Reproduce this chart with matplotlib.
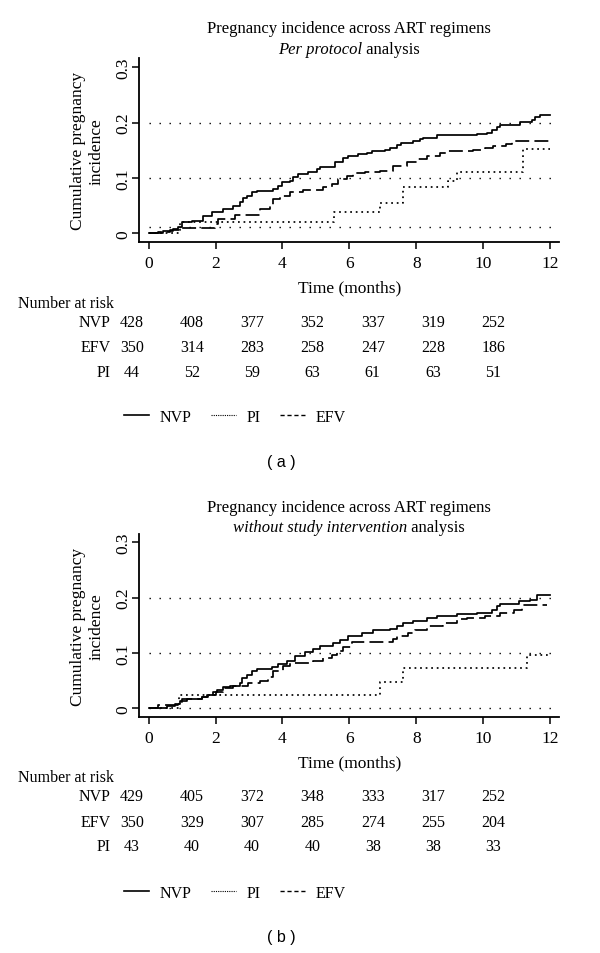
import matplotlib
matplotlib.use("Agg")
import matplotlib.pyplot as plt
from matplotlib.lines import Line2D

SERIF = "Liberation Serif"
SANS = "Liberation Sans"

# ---------------- data ----------------
months = [0, 2, 4, 6, 8, 10, 12]
groups = ["NVP", "EFV", "PI"]

# Panel (a): per protocol analysis
a_nvp_t = [0, 0.44, 0.74, 0.89, 0.99, 1.29, 1.61, 1.88, 2.23, 2.53, 2.73, 2.81, 2.93, 3.08, 3.23,
           3.73, 3.88, 3.98, 4.23, 4.33, 4.48, 4.77, 5.02, 5.12, 5.57, 5.82, 5.97, 6.27, 6.52,
           6.67, 7.07, 7.22, 7.42, 7.56, 7.91, 8.11, 8.21, 8.61, 9.81, 10.11, 10.26, 10.41,
           10.51, 11.11, 11.31, 11.45, 11.55, 11.70, 12.0]
a_nvp_y = [0, 0.004, 0.008, 0.012, 0.021, 0.023, 0.032, 0.038, 0.044, 0.049, 0.056, 0.063,
           0.068, 0.074, 0.077, 0.080, 0.086, 0.092, 0.095, 0.101, 0.107, 0.110, 0.116, 0.119,
           0.128, 0.136, 0.140, 0.143, 0.146, 0.149, 0.151, 0.155, 0.160, 0.164, 0.167, 0.170,
           0.173, 0.178, 0.180, 0.181, 0.186, 0.192, 0.195, 0.201, 0.202, 0.205, 0.210, 0.214,
           0.214]
a_efv_t = [0, 0.29, 0.64, 0.94, 1.98, 2.08, 2.58, 3.33, 3.63, 3.73, 3.93, 4.23, 4.62, 5.22,
           5.47, 5.67, 5.92, 6.12, 6.47, 6.92, 7.32, 7.71, 8.01, 8.31, 8.71, 8.96, 9.71, 10.06,
           10.31, 10.70, 10.85, 12.0]
a_efv_y = [0, 0.003, 0.006, 0.010, 0.016, 0.025, 0.033, 0.043, 0.050, 0.062, 0.068, 0.074,
           0.079, 0.083, 0.089, 0.098, 0.104, 0.109, 0.111, 0.113, 0.122, 0.128, 0.134, 0.139,
           0.146, 0.149, 0.151, 0.155, 0.158, 0.161, 0.167, 0.167]
a_pi_t = [0, 0.93, 5.55, 6.92, 7.61, 8.96, 9.21, 11.18, 12.0]
a_pi_y = [0, 0.021, 0.038, 0.054, 0.083, 0.095, 0.111, 0.153, 0.153]
a_risk_nvp = [428, 408, 377, 352, 337, 319, 252]
a_risk_efv = [350, 314, 283, 258, 247, 228, 186]
a_risk_pi = [44, 52, 59, 63, 61, 63, 51]
a_grid = [0.011, 0.1, 0.2]

# Panel (b): without study intervention analysis
b_nvp_t = [0, 0.34, 0.54, 0.79, 0.94, 1.14, 1.58, 1.73, 1.93, 2.03, 2.23, 2.43, 2.73, 2.78,
           2.93, 3.08, 3.23, 3.68, 3.88, 4.13, 4.38, 4.67, 4.92, 5.12, 5.52, 5.72, 5.97, 6.37,
           6.72, 7.22, 7.42, 7.61, 7.91, 8.31, 8.61, 9.21, 9.81, 10.26, 10.41, 10.51, 11.06,
           11.40, 11.60, 12.0]
b_nvp_y = [0, 0.001, 0.004, 0.007, 0.014, 0.017, 0.020, 0.024, 0.029, 0.033, 0.038, 0.041,
           0.045, 0.054, 0.060, 0.068, 0.071, 0.074, 0.080, 0.086, 0.095, 0.101, 0.107, 0.112,
           0.118, 0.124, 0.131, 0.136, 0.141, 0.143, 0.149, 0.155, 0.158, 0.163, 0.167, 0.170,
           0.172, 0.178, 0.184, 0.189, 0.193, 0.196, 0.205, 0.205]
b_efv_t = [0, 0.29, 0.89, 0.99, 1.58, 1.78, 2.01, 2.23, 2.53, 2.98, 3.33, 3.58, 3.73, 4.03,
           4.23, 4.92, 5.22, 5.47, 5.62, 5.82, 6.07, 7.32, 7.42, 7.76, 7.96, 8.31, 8.81, 9.21,
           9.51, 10.06, 10.51, 10.91, 11.15, 11.92]
b_efv_y = [0, 0.006, 0.011, 0.017, 0.020, 0.024, 0.029, 0.037, 0.041, 0.046, 0.049, 0.056,
           0.067, 0.076, 0.082, 0.086, 0.091, 0.097, 0.104, 0.110, 0.120, 0.125, 0.131, 0.136,
           0.141, 0.148, 0.154, 0.161, 0.164, 0.166, 0.172, 0.177, 0.186, 0.186]
b_pi_t = [0, 0.91, 6.92, 7.61, 11.31, 11.95]
b_pi_y = [0, 0.024, 0.048, 0.072, 0.097, 0.097]
b_risk_nvp = [429, 405, 372, 348, 333, 317, 252]
b_risk_efv = [350, 329, 307, 285, 274, 255, 204]
b_risk_pi = [43, 40, 40, 40, 38, 38, 33]
b_grid = [0.0, 0.1, 0.2]

# ---------------- figure ----------------
W, H = 600, 954
fig = plt.figure(figsize=(W / 100, H / 100), dpi=100)
fig.patch.set_facecolor("white")


def fx(px):
    return px / W


def fy(py):
    return 1 - py / H


SOLID = "-"
DASHED = (0, (8, 3))
DOTTED = (0, (1, 2.2))
GRIDDOT = (0, (1, 6.2))


def panel(top_px, bot_px, title2_it, title2_rm, ys_title, curves, grid, risks, y_rows, y_leg, y_lab, lab):
    left_px, right_px = 139.3, 559.0
    ax = fig.add_axes([fx(left_px), fy(bot_px), fx(right_px - left_px), (bot_px - top_px) / H])
    ax.set_xlim(-0.28, 12.27)
    ax.set_ylim(-0.0163, 0.3163 if top_px < 100 else 0.315)
    for s in ["top", "right"]:
        ax.spines[s].set_visible(False)
    for s in ["left", "bottom"]:
        ax.spines[s].set_linewidth(1.3)
    for g in grid:
        ax.axhline(g, xmin=(0 - (-0.28)) / 12.55, xmax=(12.2 + 0.28) / 12.55,
                   color="black", lw=1.0, linestyle=GRIDDOT)
    styles = [SOLID, DOTTED, DASHED]
    for (t, y), ls in zip(curves, styles):
        ax.step(t, y, where="post", color="black", lw=1.25, linestyle=ls)
    ax.set_xticks(months)
    ax.set_xticklabels([str(m) for m in months], fontfamily=SERIF, fontsize=12.5)
    ax.set_yticks([0, 0.1, 0.2, 0.3])
    ax.set_yticklabels(["0", "0.1", "0.2", "0.3"], fontfamily=SERIF, fontsize=12.5,
                       rotation=90, va="center")
    ax.tick_params(axis="both", direction="out", length=5, width=1.1, pad=4)
    ax.tick_params(axis="y", pad=1)
    ax.set_xlabel("Time (months)", fontfamily=SERIF, fontsize=12.5)
    ax.xaxis.set_label_coords(0.5, -(45.0) / (bot_px - top_px))
    ax.xaxis.label.set_va("center")
    ax.set_ylabel("Cumulative pregnancy\nincidence", fontfamily=SERIF, fontsize=12.5,
                  linespacing=1.25)
    ax.yaxis.set_label_coords((87.5 - left_px) / (right_px - left_px), 0.5)
    ax.yaxis.label.set_va("center")

    # title
    cx = fx((left_px + right_px) / 2)
    fig.text(cx, fy(ys_title[0]), "Pregnancy incidence across ART regimens",
             fontfamily=SERIF, fontsize=12, ha="center", va="center")
    r = fig.canvas.get_renderer()
    t1 = fig.text(0, fy(ys_title[1]), title2_it, fontfamily=SERIF, fontstyle="italic",
                  fontsize=12, ha="left", va="center")
    t2 = fig.text(0, fy(ys_title[1]), " " + title2_rm, fontfamily=SERIF,
                  fontsize=12, ha="left", va="center")
    w1 = t1.get_window_extent(r).width
    w2 = t2.get_window_extent(r).width
    start = (left_px + right_px) / 2 - (w1 + w2) / 2
    t1.set_x(fx(start))
    t2.set_x(fx(start + w1))

    # number at risk table (time axis mapped to table columns)
    tab = fig.add_axes([fx(131.7), fy(y_rows[3] + 10), fx(493.3 - 131.7),
                        (y_rows[3] + 10 - y_rows[0] + 10) / H])
    tab.set_xlim(0, 12)
    tab.set_ylim(y_rows[3] + 10, y_rows[0] - 10)
    tab.axis("off")
    tab.text(-3.78, y_rows[0], "Number at risk", fontfamily=SERIF, fontsize=11.5,
             ha="left", va="center")
    for name, vals, yy in zip(groups, risks, y_rows[1:]):
        tab.text(-0.69, yy, name, fontfamily=SERIF, fontsize=11.5, ha="right", va="center")
        for m, v in zip(months, vals):
            tab.text(m, yy, str(v), fontfamily=SERIF, fontsize=11.5, ha="center", va="center")
    for txt in tab.texts:
        txt.set_clip_on(False)

    # legend
    handles = [Line2D([], [], color="black", lw=1.2, linestyle="-"),
               Line2D([], [], color="black", lw=0.8, linestyle=(0, (1, 1))),
               Line2D([], [], color="black", lw=1.0, linestyle=(0, (3, 2)))]
    fig.legend(handles, ["NVP", "PI", "EFV"], loc="center left",
               bbox_to_anchor=(fx(124), fy(y_leg)), ncol=3, frameon=False,
               prop={"family": SERIF, "size": 11.5}, handlelength=1.55,
               handletextpad=0.65, columnspacing=1.25, borderpad=0, borderaxespad=0)
    fig.text(fx(281), fy(y_lab), lab, fontfamily=SANS, fontsize=11.5, ha="center", va="center")
    return ax


panel(59.3, 243.3, "Per protocol", "analysis", (29, 50),
      [(a_nvp_t, a_nvp_y), (a_pi_t, a_pi_y), (a_efv_t, a_efv_y)], a_grid,
      [a_risk_nvp, a_risk_efv, a_risk_pi], (304, 322.7, 348.3, 372.7), 418, 463, "( a )")
panel(535.0, 718.3, "without study intervention", "analysis", (508.3, 528.3),
      [(b_nvp_t, b_nvp_y), (b_pi_t, b_pi_y), (b_efv_t, b_efv_y)], b_grid,
      [b_risk_nvp, b_risk_efv, b_risk_pi], (778.3, 797.3, 822.7, 847.3), 894, 938, "( b )")

fig.savefig("out.png", dpi=100, facecolor="white")
